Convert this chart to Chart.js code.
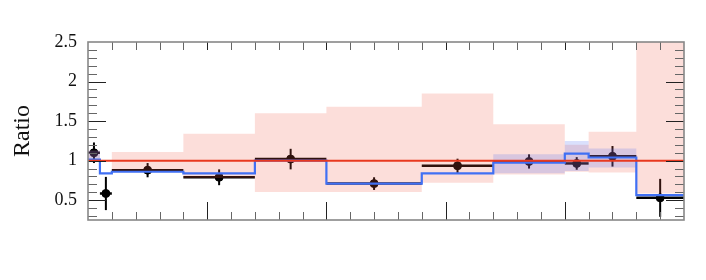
<!DOCTYPE html>
<html>
<head>
<meta charset="utf-8">
<script src="https://cdn.jsdelivr.net/npm/chart.js@4.4.1/dist/chart.umd.min.js"></script>
<style>
    html, body { margin: 0; padding: 0; background: #fff; }
    #wrap { width: 706px; height: 280px; }
</style>
</head>
<body>
<div id="wrap"><canvas id="chart" width="706" height="280"></canvas></div>
<script>
// bin edges along x (no tick labels on the x axis in the reference)
const binEdges = [0, 0.5, 1, 4, 7, 10, 14, 17, 20, 21, 23, 25];

// data / reference ratio with vertical errors
const dataRatio = [1.10, 0.585, 0.88, 0.79, 1.02, 0.71, 0.935, 0.99, 0.965, 1.055, 0.53];
const dataErr   = [0.13, 0.21, 0.09, 0.10, 0.13, 0.08, 0.09, 0.09, 0.08, 0.13, 0.24];

// reference MC (red line, always 1) and its uncertainty band
const refRatio  = [1, 1, 1, 1, 1, 1, 1, 1, 1, 1, 1];
const refBandUp = [1.13, 1.00, 1.11, 1.34, 1.60, 1.68, 1.85, 1.46, 1.20, 1.365, 2.50];
const refBandLo = [0.99, 1.00, 0.87, 0.78, 0.605, 0.605, 0.72, 0.825, 0.86, 0.85, 0.585];

// second MC (blue line) and its band
const mcRatio  = [1.015, 0.84, 0.86, 0.84, 1.00, 0.71, 0.84, 0.975, 1.09, 1.04, 0.565];
const mcBandUp = [1.13, 0.84, 0.86, 0.84, 1.00, 0.71, 0.84, 1.08, 1.25, 1.155, 0.565];
const mcBandLo = [0.99, 0.84, 0.86, 0.84, 1.00, 0.71, 0.84, 0.84, 0.87, 0.915, 0.565];

const yTickValues = [0.5, 1, 1.5, 2, 2.5];

const serif = "'Liberation Serif', 'DejaVu Serif', serif";

// stepped points: one at each left edge, plus the last right edge
function steps(vals) {
    const pts = vals.map((v, i) => ({ x: binEdges[i], y: v }));
    pts.push({ x: binEdges[binEdges.length - 1], y: vals[vals.length - 1] });
    return pts;
}

const dataPoints = dataRatio.map((v, i) => ({
    x: (binEdges[i] + binEdges[i + 1]) / 2,
    y: v,
    lo: binEdges[i],
    hi: binEdges[i + 1],
    err: dataErr[i]
}));

const errorBars = {
    id: "errorBars",
    beforeDatasetsDraw(chart) {
        const { ctx, scales: { x, y } } = chart;
        ctx.save();
        ctx.beginPath();
        ctx.rect(chart.chartArea.left, chart.chartArea.top, chart.chartArea.width, chart.chartArea.height);
        ctx.clip();
        ctx.strokeStyle = "#000";
        dataPoints.forEach(p => {
            const py = y.getPixelForValue(p.y);
            ctx.lineWidth = 2.5;
            ctx.beginPath();
            ctx.moveTo(x.getPixelForValue(p.lo), py);
            ctx.lineTo(x.getPixelForValue(p.hi), py);
            ctx.stroke();
            const px = x.getPixelForValue(p.x);
            ctx.lineWidth = 2;
            ctx.beginPath();
            ctx.moveTo(px, y.getPixelForValue(p.y + p.err));
            ctx.lineTo(px, y.getPixelForValue(p.y - p.err));
            ctx.stroke();
        });
        ctx.restore();
    }
};

const frameTicks = {
    id: "frameTicks",
    afterDraw(chart) {
        const { ctx, chartArea: a, scales: { x, y } } = chart;
        ctx.save();
        // y ticks, left and right, pointing inward
        for (let k = 3; k <= 24; k++) {
            const major = k % 5 === 0;
            const len = major ? 18 : 9;
            const py = Math.round(y.getPixelForValue(k / 10)) + 0.5;
            ctx.strokeStyle = major ? "#222" : "#666";
            ctx.lineWidth = 1;
            ctx.beginPath();
            ctx.moveTo(a.left, py); ctx.lineTo(a.left + len, py);
            ctx.moveTo(a.right, py); ctx.lineTo(a.right - len, py);
            ctx.stroke();
        }
        // x ticks, bottom and top
        for (let k = 1; k < 25; k++) {
            const major = k % 5 === 0;
            const len = major ? 18 : 8;
            const px = Math.round(x.getPixelForValue(k)) + 0.5;
            ctx.strokeStyle = major ? "#222" : "#666";
            ctx.lineWidth = 1;
            ctx.beginPath();
            ctx.moveTo(px, a.bottom); ctx.lineTo(px, a.bottom - len);
            ctx.moveTo(px, a.top); ctx.lineTo(px, a.top + 8);
            ctx.stroke();
        }
        ctx.strokeStyle = "#888";
        ctx.lineWidth = 1.6;
        ctx.strokeRect(a.left, a.top, a.width, a.height);
        ctx.restore();
    }
};

const pinkFill = "rgba(240, 90, 70, 0.2)";
const blueFill = "rgba(70, 100, 240, 0.2)";

new Chart(document.getElementById("chart"), {
    type: "line",
    data: {
        datasets: [
            {
                type: "scatter",
                data: dataPoints,
                pointRadius: 4,
                pointBackgroundColor: "#000",
                pointBorderColor: "#000",
                order: 10
            },
            {
                data: steps(refBandUp),
                stepped: true,
                borderWidth: 0,
                borderColor: "rgba(0,0,0,0)",
                pointRadius: 0,
                fill: false,
                order: 9
            },
            {
                data: steps(refBandLo),
                stepped: true,
                borderWidth: 0,
                borderColor: "rgba(0,0,0,0)",
                backgroundColor: pinkFill,
                pointRadius: 0,
                fill: "-1",
                order: 8
            },
            {
                data: steps(mcBandUp),
                stepped: true,
                borderWidth: 0,
                borderColor: "rgba(0,0,0,0)",
                pointRadius: 0,
                fill: false,
                order: 7
            },
            {
                data: steps(mcBandLo),
                stepped: true,
                borderWidth: 0,
                borderColor: "rgba(0,0,0,0)",
                backgroundColor: blueFill,
                pointRadius: 0,
                fill: "-1",
                order: 6
            },
            {
                data: steps(mcRatio),
                stepped: true,
                borderColor: "#4070f4",
                borderWidth: 2.2,
                pointRadius: 0,
                fill: false,
                order: 5
            },
            {
                data: steps(refRatio),
                stepped: true,
                borderColor: "#e8391f",
                borderWidth: 2,
                pointRadius: 0,
                fill: false,
                order: 4
            }
        ]
    },
    options: {
        responsive: false,
        animation: false,
        devicePixelRatio: 1,
        layout: { padding: { left: 0, right: 22, top: 42, bottom: 60 } },
        plugins: { legend: { display: false }, tooltip: { enabled: false } },
        scales: {
            x: {
                type: "linear",
                min: 0,
                max: 25,
                display: false
            },
            y: {
                type: "linear",
                min: 0.25,
                max: 2.5,
                afterFit: s => { s.width = 88; },
                afterBuildTicks: s => { s.ticks = yTickValues.map(v => ({ value: v })); },
                grid: { display: false, drawTicks: false },
                border: { display: false },
                ticks: {
                    padding: 11,
                    color: "#111",
                    font: { family: serif, size: 18 },
                    callback: v => String(v)
                },
                title: {
                    display: true,
                    text: "Ratio",
                    color: "#111",
                    font: { family: serif, size: 24 },
                    padding: { top: 8, bottom: 0 }
                }
            }
        }
    },
    plugins: [errorBars, frameTicks]
});
</script>
</body>
</html>
